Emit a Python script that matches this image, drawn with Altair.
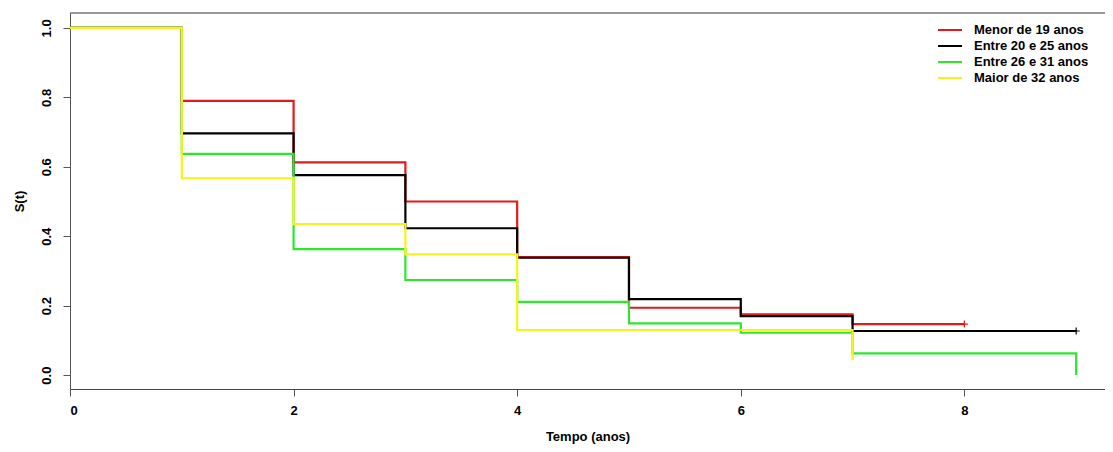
import altair as alt
import pandas as pd

names = ["Menor de 19 anos", "Entre 20 e 25 anos", "Entre 26 e 31 anos", "Maior de 32 anos"]
colors = ["#e3191c", "#000000", "#2ee62e", "#f7f21a"]

t_red = [0, 1, 2, 3, 4, 5, 6, 7, 8]
s_red = [1.0, 0.790, 0.613, 0.500, 0.340, 0.194, 0.175, 0.147, 0.147]
t_black = [0, 1, 2, 3, 4, 5, 6, 7, 9]
s_black = [1.0, 0.696, 0.576, 0.423, 0.338, 0.219, 0.170, 0.127, 0.127]
t_green = [0, 1, 2, 3, 4, 5, 6, 7, 9]
s_green = [1.0, 0.637, 0.363, 0.274, 0.211, 0.149, 0.122, 0.0625, 0.0]
t_yellow = [0, 1, 2, 3, 4, 7]
s_yellow = [1.0, 0.567, 0.435, 0.348, 0.130, 0.043]

censor_t = [8, 9]
censor_s = [0.147, 0.127]
censor_g = ["Menor de 19 anos", "Entre 20 e 25 anos"]

series = [(names[0], t_red, s_red), (names[1], t_black, s_black),
          (names[2], t_green, s_green), (names[3], t_yellow, s_yellow)]

FONT = "Liberation Sans"

xscale = alt.Scale(domain=[0, 9.258], nice=False, zero=False)
yscale = alt.Scale(domain=[-0.04, 1.043], nice=False, zero=False)
cscale = alt.Scale(domain=names, range=colors)

xaxis = alt.Axis(values=[0, 2, 4, 6, 8], title="Tempo (anos)", format="d",
                 tickSize=7, tickColor="#555", domain=True, domainColor="#444", grid=False,
                 labelFont=FONT, labelFontWeight="bold", labelFontSize=13, labelColor="#000",
                 labelPadding=8, titleFont=FONT, titleFontWeight="bold",
                 titleFontSize=13, titlePadding=13, titleColor="#000")
yaxis = alt.Axis(values=[0, 0.2, 0.4, 0.6, 0.8, 1.0], title="S(t)", format=".1f",
                 tickSize=7, tickColor="#555", domain=True, domainColor="#555", grid=False,
                 labelAngle=270, labelAlign="center", labelBaseline="bottom",
                 labelFont=FONT, labelFontWeight="bold", labelFontSize=13, labelColor="#000",
                 labelPadding=10, titleFont=FONT, titleFontWeight="bold",
                 titleFontSize=13, titlePadding=14, titleColor="#000")
legend = alt.Legend(title=None, orient="none", legendX=873, legendY=10,
                    symbolType="M-2,0L2,0", symbolSize=144,
                    symbolStrokeWidth=2, labelFont=FONT,
                    labelFontWeight="bold", labelFontSize=13,
                    labelOffset=17, rowPadding=2, labelColor="#000")

layers = []
for name, ts, ss in series:
    df = pd.DataFrame({"t": ts, "s": ss, "g": name})
    layers.append(alt.Chart(df).mark_line(interpolate="step-after", strokeWidth=2.2,
                                          clip=True).encode(
        x=alt.X("t:Q", scale=xscale, axis=xaxis),
        y=alt.Y("s:Q", scale=yscale, axis=yaxis),
        color=alt.Color("g:N", scale=cscale, sort=names, legend=legend),
    ))

cdf = pd.DataFrame({"t": censor_t, "s": censor_s, "g": censor_g})
cross = alt.Chart(cdf).mark_point(shape="M-1,0L1,0M0,-1L0,1", size=50, filled=False,
                                  strokeWidth=1.2, opacity=1).encode(
    x=alt.X("t:Q", scale=xscale, axis=xaxis),
    y=alt.Y("s:Q", scale=yscale, axis=yaxis),
    color=alt.Color("g:N", scale=cscale, sort=names, legend=legend),
)
layers.insert(2, cross)

top_line = alt.Chart(pd.DataFrame({"k": [0]})).mark_rule(color="#333", strokeWidth=1).encode(
    y=alt.value(0))
layers.append(top_line)

chart = alt.layer(*layers).properties(
    width=1035, height=376,
    autosize=alt.AutoSizeParams(type="none"),
    padding={"left": 62, "top": 5, "right": 0, "bottom": 55},
    background="white",
).configure_view(stroke=None)

chart.save("out.html", embed_options={"renderer": "svg", "actions": False})
